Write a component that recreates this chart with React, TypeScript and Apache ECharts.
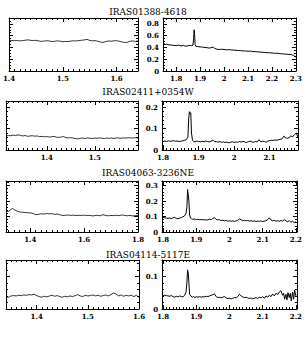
import React, { useEffect, useRef } from "react";
import * as echarts from "echarts";

// ---------- DATA ----------
const titles = ["IRAS01388-4618", "IRAS02411+0354W", "IRAS04063-3236NE", "IRAS04114-5117E"];

// Row 1
const waveL1 = [1.400,1.405,1.410,1.415,1.420,1.425,1.430,1.435,1.440,1.445,1.450,1.455,1.460,1.465,1.470,1.475,1.480,1.485,1.490,1.495,1.500,1.505,1.510,1.515,1.520,1.525,1.530,1.535,1.540,1.545,1.550,1.555,1.560,1.565,1.570,1.575,1.580,1.585,1.590,1.595,1.600,1.605,1.610,1.615,1.620,1.625,1.630,1.635,1.640];
const fluxL1 = [0.520,0.518,0.515,0.517,0.512,0.515,0.522,0.530,0.520,0.518,0.521,0.512,0.503,0.508,0.514,0.510,0.500,0.505,0.512,0.506,0.498,0.503,0.500,0.508,0.514,0.510,0.518,0.522,0.528,0.536,0.520,0.512,0.516,0.505,0.492,0.485,0.500,0.510,0.505,0.512,0.515,0.505,0.495,0.482,0.488,0.505,0.512,0.500,0.515];
const waveR1 = [1.745,1.75,1.755,1.76,1.77,1.78,1.79,1.80,1.81,1.82,1.83,1.84,1.85,1.86,1.865,1.870,1.873,1.875,1.877,1.879,1.882,1.89,1.90,1.91,1.92,1.93,1.94,1.95,1.955,1.96,1.97,1.98,1.99,2.00,2.01,2.02,2.03,2.04,2.05,2.06,2.07,2.08,2.09,2.10,2.11,2.12,2.13,2.14,2.15,2.16,2.17,2.18,2.19,2.20,2.21,2.22,2.23,2.24,2.25,2.26,2.27,2.28,2.285,2.29,2.295,2.30];
const fluxR1 = [0.455,0.46,0.45,0.455,0.445,0.44,0.435,0.43,0.44,0.425,0.435,0.42,0.43,0.435,0.43,0.44,0.55,0.70,0.62,0.45,0.42,0.415,0.41,0.405,0.40,0.395,0.39,0.40,0.405,0.385,0.37,0.365,0.37,0.365,0.36,0.362,0.358,0.355,0.352,0.348,0.345,0.342,0.34,0.335,0.338,0.33,0.328,0.325,0.322,0.318,0.315,0.312,0.31,0.306,0.30,0.302,0.296,0.292,0.29,0.285,0.282,0.28,0.27,0.265,0.25,0.235];

// Row 2
const waveL2 = [1.315,1.320,1.325,1.330,1.335,1.340,1.345,1.350,1.355,1.360,1.365,1.370,1.375,1.380,1.385,1.390,1.395,1.400,1.405,1.410,1.415,1.420,1.425,1.430,1.435,1.440,1.445,1.450,1.455,1.460,1.465,1.470,1.475,1.480,1.485,1.490,1.495,1.500,1.505,1.510,1.515,1.520,1.525,1.530,1.535,1.540,1.545,1.550,1.555,1.560,1.565,1.570,1.575,1.580,1.585,1.590];
const fluxL2 = [0.066,0.068,0.067,0.070,0.068,0.071,0.069,0.066,0.068,0.064,0.066,0.067,0.065,0.066,0.063,0.064,0.062,0.063,0.061,0.062,0.064,0.060,0.059,0.061,0.063,0.058,0.057,0.058,0.056,0.054,0.052,0.055,0.056,0.054,0.057,0.055,0.054,0.056,0.055,0.057,0.055,0.054,0.056,0.055,0.056,0.054,0.057,0.056,0.055,0.057,0.056,0.058,0.057,0.056,0.058,0.056];
const waveR2 = [1.800,1.805,1.810,1.815,1.820,1.825,1.830,1.835,1.840,1.845,1.850,1.855,1.860,1.865,1.870,1.872,1.874,1.876,1.878,1.880,1.883,1.886,1.890,1.895,1.900,1.905,1.910,1.915,1.920,1.925,1.930,1.935,1.940,1.945,1.950,1.955,1.960,1.965,1.970,1.975,1.980,1.985,1.990,1.995,2.000,2.005,2.010,2.015,2.020,2.025,2.030,2.035,2.040,2.045,2.050,2.055,2.060,2.065,2.070,2.075,2.080,2.085,2.090,2.095,2.100,2.105,2.110,2.115,2.120,2.125,2.130,2.135,2.140,2.145,2.150,2.155,2.160,2.165,2.170,2.175,2.180];
const fluxR2 = [0.040,0.042,0.040,0.043,0.041,0.042,0.044,0.041,0.042,0.040,0.041,0.043,0.045,0.048,0.060,0.140,0.180,0.170,0.175,0.080,0.045,0.040,0.038,0.042,0.040,0.038,0.041,0.039,0.042,0.040,0.038,0.041,0.046,0.040,0.039,0.037,0.040,0.036,0.038,0.035,0.037,0.034,0.036,0.039,0.035,0.038,0.036,0.040,0.037,0.041,0.038,0.035,0.039,0.042,0.038,0.036,0.040,0.038,0.048,0.039,0.041,0.040,0.036,0.042,0.044,0.046,0.045,0.047,0.046,0.048,0.050,0.052,0.065,0.058,0.055,0.058,0.066,0.062,0.072,0.080,0.060];

// Row 3
const waveL3 = [1.31,1.32,1.325,1.33,1.335,1.34,1.35,1.36,1.37,1.38,1.39,1.40,1.41,1.42,1.43,1.44,1.45,1.46,1.47,1.48,1.49,1.50,1.51,1.52,1.53,1.54,1.55,1.56,1.57,1.58,1.59,1.60,1.61,1.62,1.63,1.64,1.65,1.66,1.67,1.68,1.69,1.70,1.71,1.72,1.73,1.74,1.75,1.76,1.77,1.78,1.79,1.80];
const fluxL3 = [0.130,0.134,0.140,0.150,0.152,0.145,0.136,0.130,0.128,0.126,0.125,0.124,0.120,0.112,0.114,0.118,0.116,0.120,0.117,0.119,0.114,0.116,0.112,0.106,0.108,0.110,0.107,0.109,0.106,0.108,0.107,0.109,0.106,0.108,0.104,0.106,0.108,0.105,0.112,0.107,0.105,0.107,0.106,0.108,0.106,0.110,0.108,0.105,0.107,0.104,0.106,0.108];
const waveR3 = [1.800,1.805,1.810,1.815,1.820,1.825,1.830,1.835,1.840,1.845,1.850,1.855,1.860,1.865,1.869,1.872,1.874,1.876,1.878,1.880,1.883,1.886,1.890,1.895,1.900,1.905,1.910,1.915,1.920,1.925,1.930,1.935,1.940,1.945,1.950,1.955,1.960,1.965,1.970,1.975,1.980,1.985,1.990,1.995,2.000,2.005,2.010,2.015,2.020,2.025,2.030,2.035,2.040,2.045,2.050,2.055,2.060,2.065,2.070,2.075,2.080,2.085,2.090,2.095,2.100,2.105,2.110,2.115,2.120,2.125,2.130,2.135,2.140,2.145,2.150,2.155,2.160,2.165,2.170,2.175,2.180,2.185,2.190,2.195,2.200];
const fluxR3 = [0.095,0.092,0.090,0.088,0.091,0.086,0.092,0.095,0.088,0.086,0.090,0.093,0.098,0.105,0.120,0.160,0.275,0.240,0.200,0.110,0.090,0.085,0.082,0.084,0.080,0.082,0.079,0.081,0.078,0.080,0.077,0.079,0.083,0.080,0.088,0.092,0.082,0.078,0.080,0.074,0.076,0.072,0.075,0.070,0.073,0.069,0.072,0.068,0.072,0.075,0.085,0.079,0.073,0.076,0.072,0.075,0.070,0.074,0.069,0.072,0.068,0.071,0.069,0.072,0.068,0.070,0.073,0.080,0.092,0.078,0.072,0.075,0.070,0.073,0.069,0.074,0.071,0.080,0.072,0.066,0.074,0.063,0.070,0.060,0.066];

// Row 4
const waveL4 = [1.340,1.345,1.350,1.355,1.360,1.365,1.370,1.375,1.380,1.385,1.390,1.395,1.400,1.405,1.410,1.415,1.420,1.425,1.430,1.435,1.440,1.445,1.450,1.455,1.460,1.465,1.470,1.475,1.480,1.485,1.490,1.495,1.500,1.505,1.510,1.515,1.520,1.525,1.530,1.535,1.540,1.545,1.550,1.555,1.560,1.565,1.570,1.575,1.580,1.585,1.590,1.595,1.600];
const fluxL4 = [0.038,0.036,0.040,0.041,0.040,0.042,0.041,0.043,0.042,0.044,0.043,0.045,0.041,0.038,0.036,0.039,0.037,0.040,0.042,0.039,0.041,0.038,0.036,0.039,0.037,0.040,0.038,0.041,0.044,0.040,0.038,0.042,0.040,0.041,0.043,0.040,0.042,0.039,0.041,0.043,0.040,0.044,0.049,0.046,0.040,0.043,0.039,0.042,0.040,0.042,0.038,0.042,0.035];
const waveR4 = [1.800,1.805,1.810,1.815,1.820,1.825,1.830,1.835,1.840,1.845,1.850,1.855,1.860,1.865,1.869,1.872,1.874,1.876,1.878,1.880,1.884,1.888,1.892,1.896,1.900,1.905,1.910,1.915,1.920,1.925,1.930,1.935,1.940,1.945,1.950,1.955,1.960,1.965,1.970,1.975,1.980,1.985,1.990,1.995,2.000,2.005,2.010,2.015,2.020,2.025,2.030,2.035,2.040,2.045,2.050,2.055,2.060,2.065,2.070,2.075,2.080,2.085,2.090,2.095,2.100,2.105,2.110,2.115,2.120,2.125,2.130,2.135,2.140,2.145,2.150,2.155,2.160,2.163,2.166,2.170,2.173,2.176,2.180,2.183,2.186,2.190,2.193,2.196,2.200];
const fluxR4 = [0.040,0.042,0.041,0.040,0.039,0.041,0.038,0.036,0.039,0.037,0.040,0.038,0.037,0.042,0.050,0.080,0.120,0.110,0.080,0.045,0.040,0.036,0.038,0.035,0.038,0.036,0.038,0.036,0.038,0.037,0.039,0.038,0.040,0.042,0.044,0.046,0.038,0.035,0.036,0.034,0.036,0.038,0.034,0.032,0.033,0.031,0.033,0.035,0.034,0.038,0.045,0.040,0.037,0.035,0.036,0.034,0.032,0.034,0.031,0.033,0.035,0.032,0.036,0.034,0.038,0.033,0.040,0.036,0.042,0.038,0.046,0.040,0.048,0.044,0.052,0.056,0.042,0.048,0.030,0.045,0.028,0.050,0.035,0.048,0.025,0.052,0.030,0.058,0.040];

const waves = [waveL1, waveR1, waveL2, waveR2, waveL3, waveR3, waveL4, waveR4];
const fluxes = [fluxL1, fluxR1, fluxL2, fluxR2, fluxL3, fluxR3, fluxL4, fluxR4];

// axis ranges per panel
const xMin = [1.40, 1.745, 1.315, 1.797, 1.31, 1.797, 1.34, 1.797];
const xMax = [1.64, 2.30, 1.59, 2.18, 1.80, 2.203, 1.60, 2.203];
const xStep = [0.1, 0.1, 0.1, 0.1, 0.2, 0.1, 0.1, 0.1];
const xMinor = [10, 5, 10, 10, 10, 10, 10, 10];
const yMaxRow = [0.9, 0.23, 0.33, 0.15];
const yStepRow = [0.2, 0.1, 0.1, 0.1];
const yMinorRow = [4, 5, 5, 5];

// ---------- LAYOUT ----------
const gridBoxes = [
  { left: 6, top: 18, width: 132, height: 53 },
  { left: 163, top: 18, width: 136, height: 53 },
  { left: 6, top: 101, width: 132, height: 49 },
  { left: 162, top: 101, width: 136, height: 49 },
  { left: 6, top: 181, width: 132, height: 51 },
  { left: 162, top: 181, width: 136, height: 51 },
  { left: 6, top: 260, width: 133, height: 49 },
  { left: 162, top: 260, width: 137, height: 49 },
];
const titleY = [12, 92, 173, 255];

const FONT = "DejaVu Serif";

function isMult(v: number, step: number) {
  const r = v / step;
  return Math.abs(r - Math.round(r)) < 1e-6;
}
function fmt(v: number) {
  return String(Number(v.toFixed(3)));
}

function makeAxis(kind: "x" | "y", gi: number, pos: string, min: number, max: number, step: number, minor: number, showLabel: boolean) {
  return {
    type: "value",
    gridIndex: gi,
    position: pos,
    min,
    max,
    minInterval: step,
    maxInterval: step,
    scale: true,
    axisLine: { show: true, onZero: false, lineStyle: { color: "#000", width: 1 } },
    axisTick: { show: true, inside: true, length: 4, lineStyle: { color: "#000", width: 1 } },
    minorTick: { show: true, splitNumber: minor, length: 2, lineStyle: { color: "#000", width: 1 } },
    splitLine: { show: false },
    minorSplitLine: { show: false },
    axisLabel: {
      show: showLabel,
      fontSize: 7,
      fontFamily: FONT,
      fontWeight: "bold",
      color: "#000",
      margin: 4,
      formatter: (v: number) => (isMult(v, step) ? fmt(v) : ""),
    },
  };
}

export default function App() {
  const ref = useRef<HTMLDivElement>(null);
  useEffect(() => {
    if (!ref.current) return;
    const chart = echarts.init(ref.current, undefined, { renderer: "svg" });
    const xAxis: any[] = [];
    const yAxis: any[] = [];
    const series: any[] = [];
    for (let i = 0; i < 8; i++) {
      const row = Math.floor(i / 2);
      const isRight = i % 2 === 1;
      xAxis.push(makeAxis("x", i, "bottom", xMin[i], xMax[i], xStep[i], xMinor[i], true));
      xAxis.push(makeAxis("x", i, "top", xMin[i], xMax[i], xStep[i], xMinor[i], false));
      yAxis.push(makeAxis("y", i, "left", 0, yMaxRow[row], yStepRow[row], yMinorRow[row], isRight));
      yAxis.push(makeAxis("y", i, "right", 0, yMaxRow[row], yStepRow[row], yMinorRow[row], false));
      series.push({
        type: "line",
        xAxisIndex: 2 * i,
        yAxisIndex: 2 * i,
        data: waves[i].map((w, k) => [w, fluxes[i][k]]),
        showSymbol: false,
        symbol: "none",
        clip: true,
        lineStyle: { color: "#000", width: isRight ? 1 : 0.8 },
      });
    }
    chart.setOption({
      animation: false,
      backgroundColor: "#fff",
      grid: gridBoxes.map((g) => ({ ...g, containLabel: false })),
      xAxis,
      yAxis,
      series,
      graphic: titles.map((t, i) => ({
        type: "text",
        x: 148,
        y: titleY[i],
        style: { text: t, fontSize: 9, fontFamily: FONT, fill: "#000", align: "center", verticalAlign: "middle" },
      })),
    });
    return () => chart.dispose();
  }, []);
  return <div ref={ref} style={{ position: "absolute", left: 0, top: 0, width: 305, height: 349 }} />;
}
